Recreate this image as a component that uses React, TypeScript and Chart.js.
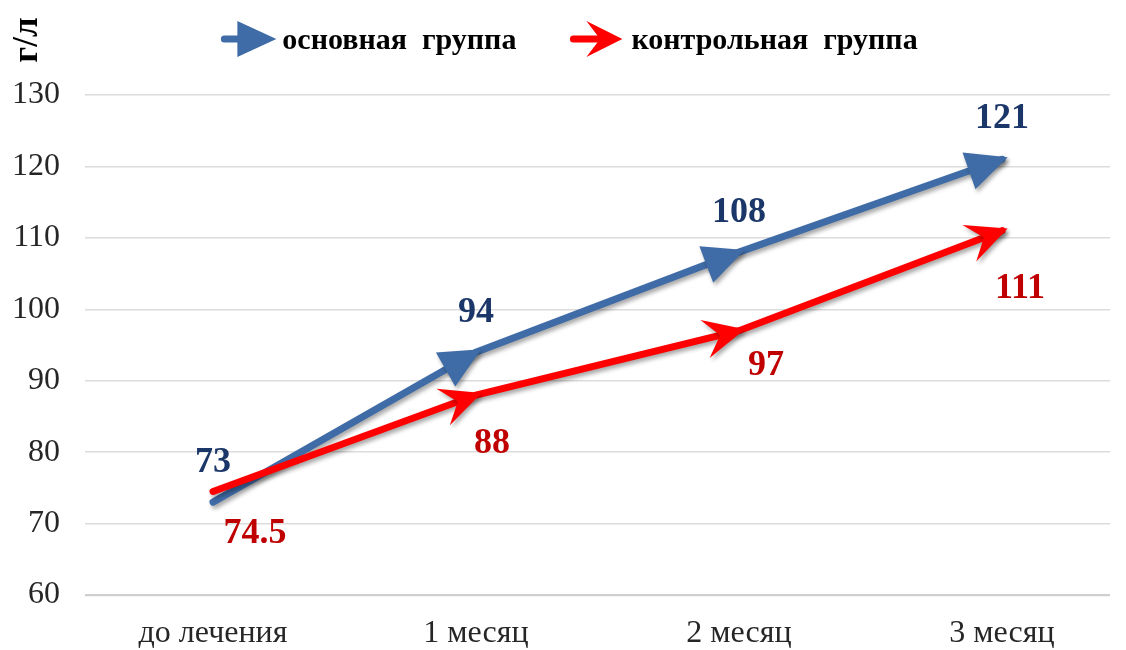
import React, { useEffect, useRef } from 'react';
import { Chart, registerables } from 'chart.js';

Chart.register(...registerables);

// ---- data ----
const categories = ['до лечения', '1 месяц', '2 месяц', '3 месяц'];
const mainGroup = [73, 94, 108, 121];
const controlGroup = [74.5, 88, 97, 111];
const seriesNames = ['основная  группа', 'контрольная  группа'];
const yTickValues = [60, 70, 80, 90, 100, 110, 120, 130];
const yAxisTitle = 'г/л';

// ---- styling / placement (kept apart from data) ----
const BLUE = '#3F6BA6';
const RED = '#FF0000';
const BLUE_LABEL = '#1B3668';
const RED_LABEL = '#C00000';
const SERIF = '"Liberation Serif", "Times New Roman", serif';
const mainLabelOffsets = [[0, -39], [0, -39], [0, -39], [0, -41]];
const controlLabelOffsets = [[42, 42], [16, 49], [27, 35], [18, 58]];

type Kind = 'triangle' | 'stealth';

function drawHead(ctx: CanvasRenderingContext2D, x: number, y: number, angle: number, kind: Kind, color: string, L: number, W: number) {
  ctx.save();
  ctx.translate(x, y);
  ctx.rotate(angle);
  ctx.beginPath();
  if (kind === 'triangle') {
    ctx.moveTo(0, 0);
    ctx.lineTo(-L, -W);
    ctx.lineTo(-L, W);
  } else {
    ctx.moveTo(0, 0);
    ctx.lineTo(-L, -W);
    ctx.lineTo(-0.62 * L, 0);
    ctx.lineTo(-L, W);
  }
  ctx.closePath();
  ctx.fillStyle = color;
  ctx.fill();
  ctx.restore();
}

const arrowPlugin = {
  id: 'arrowHeads',
  beforeDatasetDraw(chart: any) {
    const ctx = chart.ctx;
    ctx.save();
    ctx.shadowColor = 'rgba(0,0,0,0.35)';
    ctx.shadowBlur = 4;
    ctx.shadowOffsetX = 2;
    ctx.shadowOffsetY = 3;
  },
  afterDatasetDraw(chart: any, args: any) {
    const ctx = chart.ctx;
    const meta = args.meta;
    const ds = chart.data.datasets[args.index];
    const kind: Kind = ds.headKind;
    const pts = meta.data;
    for (let i = 1; i < pts.length; i++) {
      const p0 = pts[i - 1];
      const p1 = pts[i];
      const ang = Math.atan2(p1.y - p0.y, p1.x - p0.x);
      const ext = 6;
      drawHead(ctx, p1.x + Math.cos(ang) * ext, p1.y + Math.sin(ang) * ext, ang, kind, ds.borderColor, 41, 19.5);
    }
    ctx.restore();
  },
};

const labelPlugin = {
  id: 'valueLabels',
  afterDatasetsDraw(chart: any) {
    const ctx = chart.ctx;
    ctx.save();
    ctx.font = `bold 36px ${SERIF}`;
    ctx.textAlign = 'center';
    ctx.textBaseline = 'middle';
    chart.data.datasets.forEach((ds: any, di: number) => {
      const meta = chart.getDatasetMeta(di);
      const offs = ds.labelOffsets;
      meta.data.forEach((p: any, i: number) => {
        const v = ds.data[i].y;
        ctx.fillStyle = ds.labelColor;
        ctx.fillText(String(v), p.x + offs[i][0], p.y + offs[i][1]);
      });
    });
    ctx.restore();
  },
};

const legendPlugin = {
  id: 'arrowLegend',
  afterDraw(chart: any) {
    const ctx = chart.ctx;
    ctx.save();
    ctx.font = `bold 30px ${SERIF}`;
    ctx.textBaseline = 'middle';
    ctx.textAlign = 'left';
    const w1 = ctx.measureText(seriesNames[0]).width;
    const w2 = ctx.measureText(seriesNames[1]).width;
    const icon1 = 56, gap1 = 6, icon2 = 53, gap2 = 9, between = 53;
    const total = icon1 + gap1 + w1 + between + icon2 + gap2 + w2;
    const cy = 39;
    let x = 569 - total / 2;
    // icon 1
    ctx.strokeStyle = BLUE;
    ctx.lineWidth = 7;
    ctx.lineCap = 'round';
    ctx.beginPath();
    ctx.moveTo(x + 4, cy);
    ctx.lineTo(x + 22, cy);
    ctx.stroke();
    drawHead(ctx, x + icon1, cy, 0, 'triangle', BLUE, 39, 18);
    x += icon1 + gap1;
    ctx.fillStyle = '#000';
    ctx.fillText(seriesNames[0], x, cy + 2);
    x += w1 + between;
    // icon 2
    ctx.strokeStyle = RED;
    ctx.beginPath();
    ctx.moveTo(x + 4, cy);
    ctx.lineTo(x + 32, cy);
    ctx.stroke();
    drawHead(ctx, x + icon2, cy, 0, 'stealth', RED, 36, 18);
    x += icon2 + gap2;
    ctx.fillStyle = '#000';
    ctx.fillText(seriesNames[1], x, cy + 2);
    // y-axis title
    ctx.translate(28, 40);
    ctx.rotate(-Math.PI / 2);
    ctx.textAlign = 'center';
    ctx.font = `bold 35px ${SERIF}`;
    ctx.fillText(yAxisTitle, 0, 0);
    ctx.restore();
  },
};

export default function App() {
  const ref = useRef<HTMLCanvasElement | null>(null);
  useEffect(() => {
    if (!ref.current) return;
    const chart = new Chart(ref.current, {
      type: 'line',
      data: {
        datasets: [
          {
            label: seriesNames[0],
            data: mainGroup.map((v, i) => ({ x: i, y: v })),
            borderColor: BLUE,
            backgroundColor: BLUE,
            borderWidth: 7,
            borderCapStyle: 'round',
            pointRadius: 0,
            tension: 0,
            order: 1,
            headKind: 'triangle',
            labelColor: BLUE_LABEL,
            labelOffsets: mainLabelOffsets,
          } as any,
          {
            label: seriesNames[1],
            data: controlGroup.map((v, i) => ({ x: i, y: v })),
            borderColor: RED,
            backgroundColor: RED,
            borderWidth: 7,
            borderCapStyle: 'round',
            pointRadius: 0,
            tension: 0,
            order: 0,
            headKind: 'stealth',
            labelColor: RED_LABEL,
            labelOffsets: controlLabelOffsets,
          } as any,
        ],
      },
      options: {
        animation: false,
        responsive: true,
        maintainAspectRatio: false,
        layout: { padding: { top: 95, left: 12, right: 16, bottom: 2 } },
        plugins: {
          legend: { display: false },
          tooltip: { enabled: false },
        },
        scales: {
          x: {
            type: 'linear',
            min: -0.4867,
            max: 3.4106,
            afterBuildTicks: (axis: any) => {
              axis.ticks = categories.map((_, i) => ({ value: i }));
            },
            afterFit: (axis: any) => {
              axis.height = 53;
              axis.paddingLeft = 0;
              axis.paddingRight = 0;
            },
            ticks: {
              autoSkip: false,
              maxRotation: 0,
              padding: 23,
              color: '#262626',
              font: { family: SERIF, size: 32, lineHeight: 1.0 },
              callback: (v: any) => categories[Math.round(Number(v))] ?? '',
            },
            grid: { display: false, drawTicks: false },
            border: { display: false },
          },
          y: {
            min: 60,
            max: 130,
            afterBuildTicks: (axis: any) => {
              axis.ticks = yTickValues.map((v) => ({ value: v }));
            },
            afterFit: (axis: any) => {
              axis.width = 73;
            },
            ticks: {
              padding: 25,
              color: '#262626',
              font: { family: SERIF, size: 32 },
            },
            grid: {
              color: (c: any) => (c.tick && c.tick.value === 60 ? '#cfcfcf' : '#dcdcdc'),
              lineWidth: (c: any) => (c.tick && c.tick.value === 60 ? 2.2 : 1.5),
              drawTicks: false,
            },
            border: { display: false },
          },
        },
      },
      plugins: [arrowPlugin, labelPlugin, legendPlugin],
    });
    return () => chart.destroy();
  }, []);
  return (
    <div style={{ position: 'fixed', left: 0, top: 0, width: 1126, height: 650, background: '#fff' }}>
      <canvas ref={ref} />
    </div>
  );
}
